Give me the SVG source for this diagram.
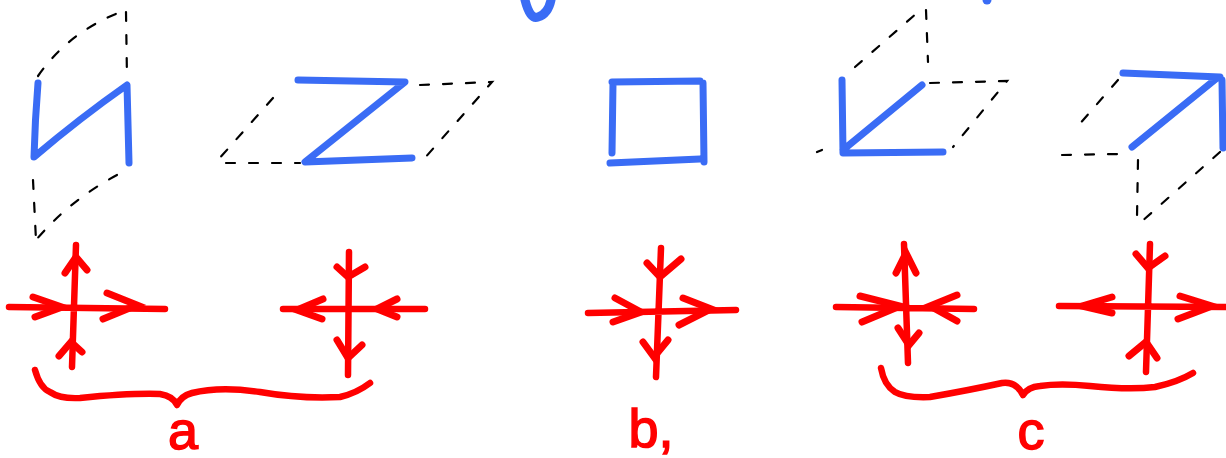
<svg xmlns="http://www.w3.org/2000/svg" width="1226" height="458" viewBox="0 0 1226 458">
<style>
.blue{fill:none;stroke:#3a6cf5;stroke-width:7;stroke-linecap:round;stroke-linejoin:round}
.dash{fill:none;stroke:#000;stroke-width:2.2;stroke-dasharray:9 14;stroke-linecap:round}
.red{fill:none;stroke:#ff0000;stroke-width:6.5;stroke-linecap:round;stroke-linejoin:round}
.head{fill:none;stroke:#ff0000;stroke-width:7;stroke-linecap:round;stroke-linejoin:miter;stroke-miterlimit:10}
.lbl{font-family:"Liberation Sans","DejaVu Sans",sans-serif;font-size:54px;fill:#ff0000;stroke:#ff0000;stroke-width:1.5;text-anchor:middle}
</style>
<rect width="1226" height="458" fill="#fff"/>

<g id="top-marks">
<path class="blue" style="stroke-width:9" d="M525,0 Q530,20 538,17 Q548,14 551,0"/>
<circle cx="987" cy="0" r="4.5" fill="#3a6cf5"/>
</g>

<g id="shape-a1">
<path class="dash" d="M38,76 Q70,30 126,10"/>
<path class="dash" d="M126,12 L127,78"/>
<path class="dash" d="M33,180 L36,240"/>
<path class="dash" d="M117,175 Q70,200 36,240"/>
<path class="blue" d="M38,83 Q35,120 34,157 Q80,118 127,85 L129,163"/>
</g>

<g id="shape-a2">
<path class="dash" d="M273,98 L218,160"/>
<path class="dash" d="M226,163 L300,163"/>
<path class="dash" d="M420,85 L492,82 L423,160"/>
<path class="blue" d="M298,80 L405,82 L305,162 L412,158"/>
</g>

<g id="shape-b">
<path class="blue" d="M612,82 L700,81 M703,83 L704,162 M610,163 L700,159 M613,83 L612,153"/>
</g>

<g id="shape-c1">
<path class="dash" d="M855,67 L917,13"/>
<path class="dash" d="M926,10 L928,62"/>
<path class="dash" d="M930,83 L1007,81 L953,147"/>
<path class="dash" d="M817,152 L822,150"/>
<path class="blue" d="M842,80 L843,153 L943,152 M843,150 L922,85"/>
</g>

<g id="shape-c2">
<path class="dash" d="M1118,80 L1077,127"/>
<path class="dash" d="M1062,155 L1120,154"/>
<path class="dash" d="M1138,160 L1137,217"/>
<path class="dash" d="M1220,152 L1140,223"/>
<path class="blue" d="M1123,73 L1220,77 M1217,78 L1132,147 M1222,80 L1223,148"/>
</g>

<g id="cross-a1">
<path class="red" d="M9,307 L165,309 M76,245 L72,367"/>
<path class="head" d="M33,297 L62,307 L35,317"/>
<path class="head" d="M107,293 L137,305 L103,319"/>
<path class="head" d="M65,273 L76,257 L87,270"/>
<path class="head" d="M59,356 L71,342 L82,352"/>
</g>

<g id="cross-a2">
<path class="red" d="M283,309 L425,309 M349,252 L348,375"/>
<path class="head" d="M323,299 L297,310 L322,319"/>
<path class="head" d="M397,299 L377,309 L397,317"/>
<path class="head" d="M337,267 L348,277 L365,267"/>
<path class="head" d="M337,340 L348,358 L362,345"/>
</g>

<g id="cross-b">
<path class="red" d="M588,313 L736,310 M661,248 L656,377"/>
<path class="head" d="M615,298 L641,312 L613,322"/>
<path class="head" d="M683,298 L711,309 L679,325"/>
<path class="head" d="M647,263 L660,277 L681,259"/>
<path class="head" d="M643,342 L654,357 L668,340"/>
</g>

<g id="cross-c1">
<path class="red" d="M836,307 L974,309 M904,244 L908,363"/>
<path class="head" d="M860,296 L900,306 L862,322"/>
<path class="head" d="M957,295 L930,306 L957,321"/>
<path class="head" d="M896,273 L906,253 L916,273"/>
<path class="head" d="M898,328 L909,345 L919,333"/>
</g>

<g id="cross-c2">
<path class="red" d="M1059,306 L1226,307 M1150,244 L1146,372"/>
<path class="head" d="M1112,297 L1082,306 L1112,313"/>
<path class="head" d="M1180,296 L1212,306 L1178,319"/>
<path class="head" d="M1136,254 L1148,268 L1165,256"/>
<path class="head" d="M1129,356 L1146,342 L1157,358"/>
</g>

<g id="brace-a">
<path class="red" d="M35,370 Q40,388 50,392 Q60,399 80,398 Q130,393 160,394 Q173,396 177,405 Q181,396 192,393 Q220,386 260,392 Q300,399 340,397 Q357,393 370,383"/>
<text class="lbl" x="183" y="449">a</text>
</g>

<g id="label-b">
<text class="lbl" x="651" y="447">b,</text>
</g>

<g id="brace-c">
<path class="red" d="M881,368 Q884,385 895,392 Q905,398 930,397 Q970,390 1002,383 Q1016,381 1023,395 Q1028,387 1040,386 Q1060,383 1090,386 Q1130,390 1155,387 Q1178,382 1193,373"/>
<text class="lbl" x="1031" y="449">c</text>
</g>
</svg>
